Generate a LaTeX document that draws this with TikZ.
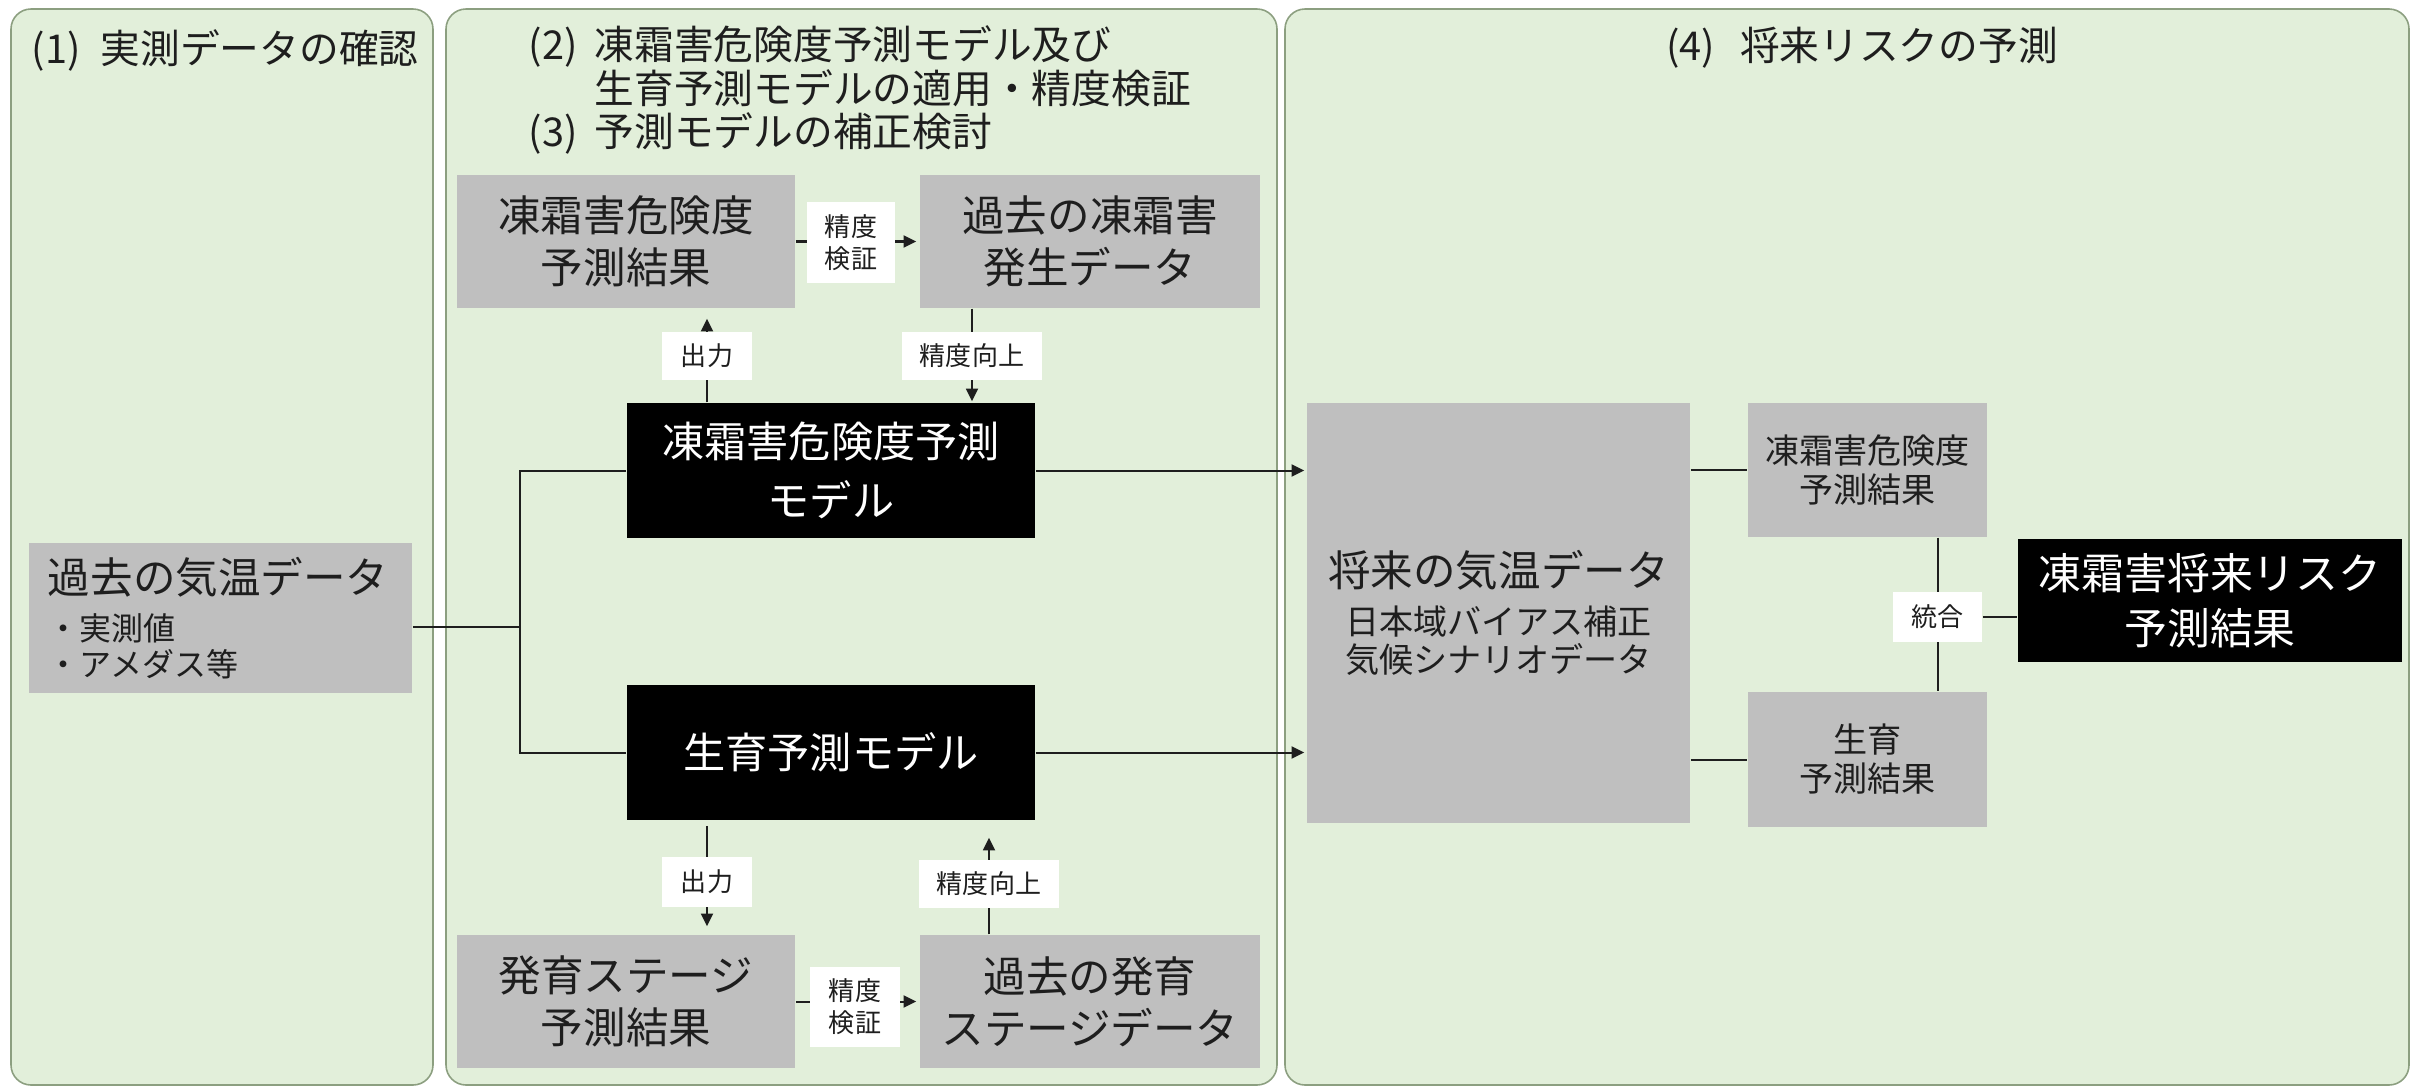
\documentclass[tikz,border=0pt]{standalone}
\usepackage{fontspec}
\setmainfont{Noto Sans CJK JP}
\usetikzlibrary{arrows.meta,calc}
\definecolor{pfill}{HTML}{E2EFDA}
\definecolor{pdraw}{HTML}{8C9F80}
\definecolor{gbox}{HTML}{BFBFBF}
\definecolor{ink}{HTML}{1E1E1E}
\pgfdeclarelayer{back}
\pgfdeclarelayer{lines}
\pgfsetlayers{back,lines,main}
\newcommand\fsTitle{\fontsize{11.3pt}{12.5pt}\selectfont}
\newcommand\fsBox{\fontsize{12.1pt}{14.8pt}\selectfont}
\newcommand\fsModel{\fontsize{12pt}{17pt}\selectfont}
\newcommand\fsRes{\fontsize{12.2pt}{15.6pt}\selectfont}
\newcommand\fsSmall{\fontsize{9.7pt}{11.1pt}\selectfont}
\newcommand\fsBullet{\fontsize{9.1pt}{11pt}\selectfont}
\newcommand\fsLab{\fontsize{7.4pt}{9.1pt}\selectfont}
\tikzset{
  panel/.style={fill=pfill, draw=pdraw, line width=0.45pt, rounded corners=0.2cm},
  graybox/.style={fill=gbox, text=ink, inner sep=0pt, align=center, font=\fsBox},
  blackbox/.style={fill=black, text=white, inner sep=0pt, align=center, font=\fsModel},
  lab/.style={fill=white, text=ink, inner sep=0pt, align=center, font=\fsLab},
  title/.style={text=ink, inner sep=0pt, font=\fsTitle},
  conn/.style={draw=ink, line width=0.57pt},
  arr/.style={conn, -{Triangle[length=3.6pt,width=3.4pt]}},
}
\begin{document}
\begin{tikzpicture}[x=0.01cm,y=-0.01cm]
\path[use as bounding box] (0,0) rectangle (2412,1088);
\begin{pgfonlayer}{back}
  \fill[white] (0,0) rectangle (2412,1088);
  \draw[panel] (11,9) rectangle (433,1085);
  \draw[panel] (446,9) rectangle (1277,1085);
  \draw[panel] (1285,9) rectangle (2409,1085);
\end{pgfonlayer}

% titles
\node[title, anchor=west] (t1) at (31,50) {(1)\hspace{0.2cm}実測データの確認};
\node[title, anchor=west, align=left] (t2) at (528,90)
  {\makebox[0.66cm][l]{(2)}凍霜害危険度予測モデル及び\\
   \hspace*{0.66cm}生育予測モデルの適用・精度検証\\
   \makebox[0.66cm][l]{(3)}予測モデルの補正検討};
\node[title] (t4) at (1862,48) {(4)\hspace{0.25cm}将来リスクの予測};

% panel 1
\node[graybox, minimum width=3.83cm, minimum height=1.5cm, text width=3.45cm,
      inner xsep=0.19cm, align=left] (past) at (220.5,618)
  {過去の気温データ\\[-1.4pt]{\fsBullet ・実測値}\\[-4.6pt]{\fsBullet ・アメダス等}};

% panel 2
\node[graybox, minimum width=3.38cm, minimum height=1.33cm] (r1) at (626,241.5) {凍霜害危険度\\予測結果};
\node[graybox, minimum width=3.40cm, minimum height=1.33cm] (d1) at (1090,241.5) {過去の凍霜害\\発生データ};
\node[blackbox, minimum width=4.08cm, minimum height=1.35cm] (m1) at (831,470.5) {凍霜害危険度予測\\モデル};
\node[blackbox, minimum width=4.08cm, minimum height=1.35cm] (m2) at (831,752.5) {生育予測モデル};
\node[graybox, minimum width=3.38cm, minimum height=1.33cm] (r2) at (626,1001.5) {発育ステージ\\予測結果};
\node[graybox, minimum width=3.40cm, minimum height=1.33cm] (d2) at (1090,1001.5) {過去の発育\\ステージデータ};

\node[lab, minimum width=0.87cm, minimum height=0.81cm] (v1) at (851,242.5) {精度\\検証};
\node[lab, minimum width=0.90cm, minimum height=0.48cm] (o1) at (707,356) {出力};
\node[lab, minimum width=1.40cm, minimum height=0.48cm] (u1) at (972,356) {精度向上};
\node[lab, minimum width=0.90cm, minimum height=0.50cm] (o2) at (707,882) {出力};
\node[lab, minimum width=1.40cm, minimum height=0.48cm] (u2) at (989,884) {精度向上};
\node[lab, minimum width=0.89cm, minimum height=0.80cm] (v2) at (855,1007) {精度\\検証};

% panel 3
\node[graybox, minimum width=3.83cm, minimum height=4.2cm] (fut) at (1498.5,613)
  {将来の気温データ\\[-1.3pt]{\fsSmall 日本域バイアス補正}\\[-3.9pt]{\fsSmall 気候シナリオデータ}};
\node[graybox, font=\fsSmall, minimum width=2.39cm, minimum height=1.34cm] (s1) at (1867.5,470) {凍霜害危険度\\予測結果};
\node[graybox, font=\fsSmall, minimum width=2.39cm, minimum height=1.35cm] (s2) at (1867.5,759.5) {生育\\予測結果};
\node[blackbox, font=\fsRes, minimum width=3.84cm, minimum height=1.23cm] (res) at (2210,600.5) {凍霜害将来リスク\\予測結果};
\node[lab, minimum width=0.89cm, minimum height=0.50cm] (mg) at (1937.5,617) {統合};

\coordinate (jn) at (520,627);

\begin{pgfonlayer}{lines}
  \draw[conn] (past.east |- jn) -- (jn);
  \draw[conn] (m1.west) -| (jn) |- (m2.west);
  \draw[arr, shorten >=0.03cm] (r1.east) -- (d1.west);
  \draw[arr, shorten >=0.1cm] (m1.north -| o1) -- (r1.south -| o1);
  \draw[arr, shorten >=0.01cm] (d1.south -| u1) -- (m1.north -| u1);
  \draw[arr, shorten <=0.05cm, shorten >=0.08cm] (m2.south -| o2) -- (r2.north -| o2);
  \draw[arr, shorten >=0.17cm] (d2.north -| u2) -- (m2.south -| u2);
  \draw[arr, shorten >=0.03cm] (r2.east) -- (d2.west);
  \draw[arr, shorten >=0.02cm] (m1.east) -- (m1.east -| fut.west);
  \draw[arr, shorten >=0.02cm] (m2.east) -- (m2.east -| fut.west);
  \draw[conn] (fut.east |- s1.west) -- (s1.west);
  \draw[conn] (fut.east |- s2.west) -- (s2.west);
  \draw[conn] (s1.south -| mg) -- (s2.north -| mg);
  \draw[conn] (mg.east) -- (mg.east -| res.west);
\end{pgfonlayer}
\end{tikzpicture}
\end{document}
